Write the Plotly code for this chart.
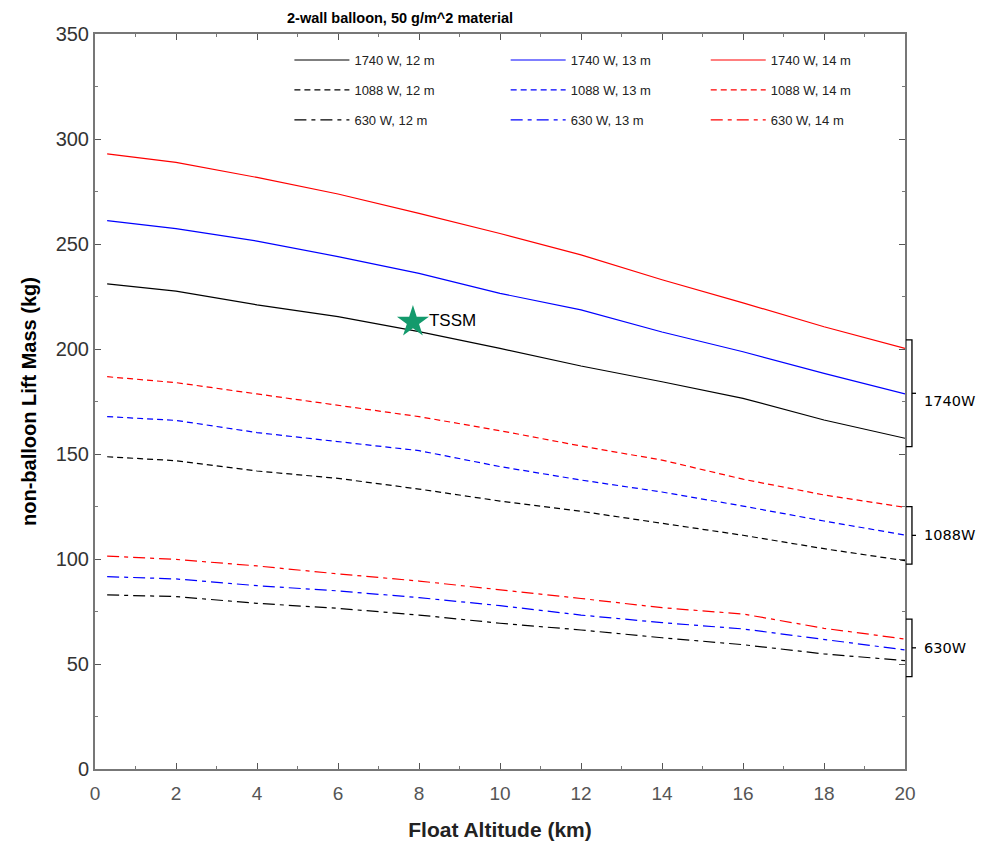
import plotly.graph_objects as go

# Float altitude (km)
altitude = [0.3, 2, 4, 6, 8, 10, 12, 14, 16, 18, 20]

# non-balloon lift mass (kg)
m1740_12 = [231.0, 227.6, 221.0, 215.4, 208.3, 200.3, 191.9, 184.4, 176.5, 166.2, 157.5]
m1740_13 = [261.1, 257.3, 251.4, 244.0, 236.0, 226.5, 218.6, 208.1, 198.7, 188.4, 178.6]
m1740_14 = [292.9, 288.9, 281.7, 273.8, 264.6, 255.0, 244.8, 233.0, 222.0, 210.6, 200.3]
m1088_12 = [148.7, 146.8, 141.9, 138.4, 133.3, 127.6, 122.7, 117.0, 111.3, 104.9, 99.2]
m1088_13 = [167.8, 166.0, 160.2, 156.0, 151.6, 144.0, 137.6, 131.9, 125.2, 118.1, 111.4]
m1088_14 = [186.8, 184.0, 178.6, 173.3, 167.8, 161.1, 153.8, 147.1, 138.0, 130.5, 124.6]
m630_12 = [82.9, 82.1, 78.9, 76.5, 73.3, 69.4, 66.2, 62.5, 59.2, 54.8, 51.6]
m630_13 = [91.6, 90.5, 87.3, 84.8, 81.6, 77.8, 73.3, 69.7, 66.7, 61.7, 56.7]
m630_14 = [101.4, 99.8, 96.7, 92.9, 89.5, 85.5, 81.2, 76.8, 73.8, 67.0, 61.9]

tssm_alt = [7.85]
tssm_mass = [212.9]

# bracket groups: (label, top, bottom)
groups = ["1740W", "1088W", "630W"]
group_top = [204.3, 124.9, 71.4]
group_bottom = [153.5, 97.6, 44.0]

series = [
    ("1740 W, 12 m", m1740_12, "black", "solid", "legend"),
    ("1088 W, 12 m", m1088_12, "black", "6px,4px", "legend"),
    ("630 W, 12 m", m630_12, "black", "12px,5px,4px,5px", "legend"),
    ("1740 W, 13 m", m1740_13, "#0000ff", "solid", "legend2"),
    ("1088 W, 13 m", m1088_13, "#0000ff", "6px,4px", "legend2"),
    ("630 W, 13 m", m630_13, "#0000ff", "12px,5px,4px,5px", "legend2"),
    ("1740 W, 14 m", m1740_14, "#ff0000", "solid", "legend3"),
    ("1088 W, 14 m", m1088_14, "#ff0000", "6px,4px", "legend3"),
    ("630 W, 14 m", m630_14, "#ff0000", "12px,5px,4px,5px", "legend3"),
]

fig = go.Figure()
for i, (name, vals, color, dash, lg) in enumerate(series):
    fig.add_trace(go.Scatter(
        x=altitude, y=vals, mode="lines", name=name,
        line=dict(color=color, width=1.2, dash=dash),
        legend=lg, legendgroup=name,
    ))

fig.add_trace(go.Scatter(
    x=tssm_alt, y=tssm_mass, mode="markers+text", text=["TSSM"],
    textposition="middle right",
    textfont=dict(family="Arial", size=17, color="black"),
    marker=dict(symbol="star", size=24, color="#139a6c"),
    showlegend=False,
))

shapes = []
annotations = []
for g, top, bot in zip(groups, group_top, group_bottom):
    mid = (top + bot) / 2
    shapes.append(dict(type="path", xref="paper", yref="y",
                       path=f"M 1.0012 {top} L 1.0086 {top} L 1.0086 {bot} L 1.0012 {bot}",
                       line=dict(color="black", width=1.3)))
    shapes.append(dict(type="line", xref="paper", yref="y",
                       x0=1.0086, x1=1.0136, y0=mid, y1=mid,
                       line=dict(color="black", width=1.3)))
    annotations.append(dict(xref="paper", yref="y", x=1.021, y=mid,
                            text=g, showarrow=False, xanchor="left", yanchor="middle",
                            font=dict(family="DejaVu Sans", size=14.5, color="black"),
                            yshift=-8 if g == "1740W" else 0))

annotations.append(dict(xref="paper", yref="paper", x=0.3765, y=1.0218,
                        text="<b>2-wall balloon, 50 g/m^2 material</b>", showarrow=False,
                        xanchor="center", yanchor="middle",
                        font=dict(family="Arial", size=14.5, color="black")))

legend_common = dict(orientation="v", bgcolor="rgba(0,0,0,0)", borderwidth=0,
                     font=dict(family="Arial", size=13, color="#222"),
                     tracegroupgap=10, itemwidth=55, yanchor="top", xanchor="left")

fig.update_layout(
    width=984, height=844,
    margin=dict(l=87, r=87, t=26, b=83),
    paper_bgcolor="white", plot_bgcolor="white",
    showlegend=True,
    legend=dict(x=0.24, y=0.985, **legend_common),
    legend2=dict(x=0.507, y=0.985, **legend_common),
    legend3=dict(x=0.754, y=0.985, **legend_common),
    shapes=shapes, annotations=annotations,
    xaxis=dict(range=[0, 20], dtick=2, ticks="inside", ticklen=6, tickwidth=1.2,
               tickcolor="#555", showline=True, linecolor="#777", linewidth=2,
               mirror="allticks", showgrid=False, zeroline=False, ticklabelstandoff=6,
               minor=dict(dtick=1, ticks="inside", ticklen=3, tickcolor="#777"),
               tickfont=dict(family="Arial", size=19, color="#555"),
               title=dict(text="<b>Float Altitude (km)</b>", standoff=20,
                          font=dict(family="Arial", size=21, color="#222"))),
    yaxis=dict(range=[0, 350], dtick=50, ticks="inside", ticklen=6, tickwidth=1.2,
               tickcolor="#555", showline=True, linecolor="#777", linewidth=2,
               mirror="allticks", showgrid=False, zeroline=False,
               minor=dict(dtick=25, ticks="inside", ticklen=3, tickcolor="#777"),
               tickfont=dict(family="Arial", size=20, color="#333"),
               title=dict(text="<b>non-balloon Lift Mass (kg)</b>", standoff=14,
                          font=dict(family="Arial", size=20, color="black"))),
)

fig.write_html("out.html")
